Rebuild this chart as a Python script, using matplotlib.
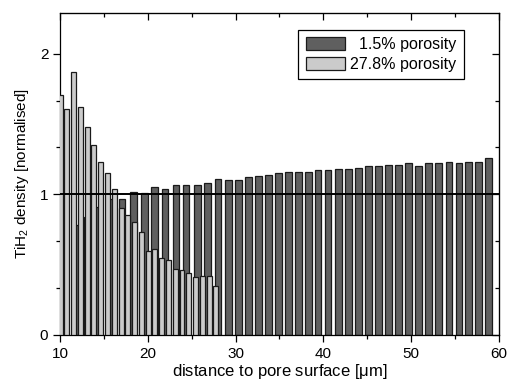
import numpy as np
import matplotlib
matplotlib.use("Agg")
import matplotlib.pyplot as plt
from matplotlib.ticker import MultipleLocator

plt.rcParams["font.family"] = ["Liberation Sans", "DejaVu Sans"]
plt.rcParams["mathtext.fontset"] = "custom"
plt.rcParams["mathtext.rm"] = "Liberation Sans"

# 1.5% porosity (dark bars)
dist_low = [10.57, 11.79, 13.07, 14.33, 15.69, 17.06, 18.37, 19.59, 20.76, 21.95,
            23.20, 24.34, 25.63, 26.77, 27.98, 29.20, 30.37, 31.51, 32.62, 33.79,
            34.93, 36.06, 37.20, 38.34, 39.40, 40.54, 41.72, 42.86, 44.00, 45.14,
            46.27, 47.41, 48.58, 49.72, 50.86, 52.00, 53.14, 54.31, 55.45, 56.58,
            57.65, 58.83]
dens_low = [0.68, 0.78, 0.84, 0.91, 0.97, 0.97, 1.02, 1.01, 1.05, 1.04,
            1.07, 1.07, 1.07, 1.08, 1.11, 1.10, 1.10, 1.12, 1.13, 1.14,
            1.15, 1.16, 1.16, 1.16, 1.17, 1.17, 1.18, 1.18, 1.19, 1.20,
            1.20, 1.21, 1.21, 1.22, 1.20, 1.22, 1.22, 1.23, 1.22, 1.23,
            1.23, 1.26]

# 27.8% porosity (light bars)
dist_high = [10.0, 10.77, 11.54, 12.32, 13.09, 13.86, 14.63, 15.40, 16.18, 16.95,
             17.72, 18.49, 19.26, 20.04, 20.81, 21.58, 22.35, 23.12, 23.90, 24.67,
             25.44, 26.21, 26.98, 27.76]
dens_high = [1.71, 1.61, 1.87, 1.62, 1.48, 1.35, 1.23, 1.15, 1.04, 0.90,
             0.85, 0.80, 0.73, 0.60, 0.61, 0.55, 0.53, 0.47, 0.46, 0.44,
             0.41, 0.42, 0.42, 0.35]

fig = plt.figure(figsize=(5.09, 3.88), dpi=100)
ax = fig.add_axes([0.118, 0.1366, 0.862, 0.83])

ax.bar(dist_low, dens_low, width=0.76, color="#5f5f5f", edgecolor="#1a1a1a",
       linewidth=0.9, zorder=2, label="  1.5% porosity")
ax.bar(dist_high, dens_high, width=0.56, color="#cbcbcb", edgecolor="#1a1a1a",
       linewidth=0.9, zorder=3, label="27.8% porosity")
ax.axhline(1, color="black", lw=1.4, zorder=4)

ax.set_xlim(10, 60)
ax.set_ylim(0, 2.29)
ax.xaxis.set_major_locator(MultipleLocator(10))
ax.xaxis.set_minor_locator(MultipleLocator(5))
ax.yaxis.set_major_locator(MultipleLocator(1))
ax.yaxis.set_minor_locator(MultipleLocator(1 / 3))

ax.tick_params(which="both", direction="out", labelsize=11, width=0.9,
               top=False, right=False)
ax.tick_params(which="major", length=5)
ax.tick_params(which="minor", length=3)

# inward ticks on the top and right edges
sx = ax.secondary_xaxis("top")
sx.xaxis.set_major_locator(MultipleLocator(10))
sx.xaxis.set_minor_locator(MultipleLocator(5))
sx.tick_params(which="major", direction="in", length=5, width=0.9, labeltop=False)
sx.tick_params(which="minor", direction="in", length=3, width=0.9)
sy = ax.secondary_yaxis("right")
sy.yaxis.set_major_locator(MultipleLocator(1))
sy.yaxis.set_minor_locator(MultipleLocator(1 / 3))
sy.tick_params(which="major", direction="in", length=5, width=0.9, labelright=False)
sy.tick_params(which="minor", direction="in", length=3, width=0.9)
for s in ax.spines.values():
    s.set_linewidth(0.9)

ax.set_xlabel("distance to pore surface [$\\mathrm{\\mu}$m]", fontsize=12, labelpad=1)
ax.set_ylabel("TiH$_2$ density [normalised]", fontsize=11, labelpad=6)

leg = ax.legend(loc="upper right", bbox_to_anchor=(0.92, 0.947), borderaxespad=0,
                fontsize=11.5, fancybox=False, edgecolor="black", framealpha=1,
                handlelength=2.5, handleheight=0.85, handletextpad=0.3,
                labelspacing=0.3, borderpad=0.45)
leg.get_frame().set_linewidth(0.9)

fig.savefig("out.png", dpi=100)
